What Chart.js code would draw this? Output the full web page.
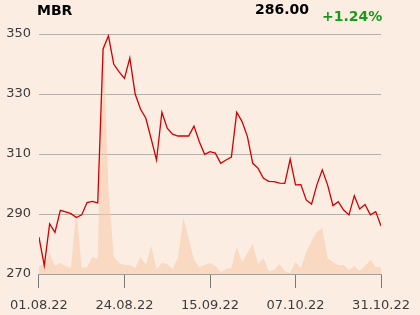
<!DOCTYPE html>
<html>
<head>
<meta charset="utf-8">
<script src="https://cdn.jsdelivr.net/npm/chart.js@4"></script>
<style>
  body { margin: 0; background: #fcede2; }
  #wrap { position: relative; width: 420px; height: 315px; }
  .lbl { position: absolute; font-family: "DejaVu Sans", sans-serif; font-weight: bold; font-size: 14px; line-height: 14px; white-space: nowrap; }
</style>
</head>
<body>
<div id="wrap">
  <canvas id="mbrChart" width="420" height="315"></canvas>
  <div class="lbl" style="left:37px; top:3px; color:#000;">MBR</div>
  <div class="lbl" style="left:255px; top:2px; color:#000;">286.00</div>
  <div class="lbl" style="left:322px; top:9px; color:#1a9a1a;">+1.24%</div>
</div>
<script>
const tickLabels = ['01.08.22', '24.08.22', '15.09.22', '07.10.22', '31.10.22'];

const closes = [
    282.3, 272.8, 286.7, 283.9, 291.2, 290.7, 290.1, 288.8, 289.7, 293.8,
    294.2, 293.7, 345.0, 349.4, 339.9, 337.4, 335.2, 342.0, 330.0, 325.0,
    321.9, 315.0, 308.0, 323.9, 318.6, 316.6, 316.0, 316.0, 316.0, 319.3,
    314.1, 309.9, 310.8, 310.3, 306.9, 308.0, 309.0, 323.9, 320.8, 315.8,
    306.9, 305.2, 301.9, 300.9, 300.8, 300.3, 300.2, 308.3, 299.7, 299.8,
    294.7, 293.3, 299.7, 304.7, 299.7, 292.8, 294.1, 291.3, 289.7, 296.1,
    291.7, 293.2, 289.7, 290.8, 286.0
];

const volumes = [
    8, 10, 21, 8, 11, 8, 6, 66, 6, 7,
    17, 15, 239, 85, 17, 11, 9, 9, 6, 17,
    9, 28, 5, 11, 10, 5, 16, 56, 36, 14,
    7, 9, 11, 8, 2, 5, 6, 27, 12, 21,
    30, 10, 16, 3, 4, 10, 3, 1, 12, 6,
    22, 33, 42, 46, 16, 12, 9, 9, 4, 8,
    3, 8, 14, 7, 7
];

const xs = closes.map((_, i) => i);

const ctx = document.getElementById('mbrChart').getContext('2d');
const chart = new Chart(ctx, {
    type: 'line',
    data: {
        labels: xs,
        datasets: [{
            label: 'MBR',
            data: closes,
            borderColor: '#d00000',
            borderWidth: 1.3,
            pointRadius: 0,
            tension: 0,
            yAxisID: 'y',
            order: 1
        }, {
            label: 'Volume',
            data: volumes,
            borderWidth: 0,
            backgroundColor: 'rgba(246, 200, 168, 0.55)',
            fill: 'origin',
            pointRadius: 0,
            tension: 0,
            yAxisID: 'yv',
            order: 2
        }]
    },
    options: {
        responsive: false,
        animation: false,
        layout: { padding: { top: 34, right: 34, left: 0, bottom: 0 } },
        plugins: {
            legend: { display: false },
            tooltip: { enabled: false }
        },
        scales: {
            x: {
                type: 'linear',
                min: 0,
                max: 64,
                afterFit: scale => { scale.height = 41; },
                ticks: {
                    stepSize: 16,
                    autoSkip: false,
                    maxRotation: 0,
                    padding: 10,
                    color: '#3c3c3c',
                    font: { family: 'DejaVu Sans', size: 13 },
                    callback: value => tickLabels[value / 16]
                },
                grid: {
                    drawOnChartArea: false,
                    drawTicks: true,
                    tickLength: 14,
                    color: '#7a7a7a'
                },
                border: { color: '#a0a0a0', width: 1 }
            },
            y: {
                min: 270,
                max: 350,
                afterFit: scale => { scale.width = 37; },
                ticks: {
                    stepSize: 20,
                    padding: 8,
                    color: '#3c3c3c',
                    font: { family: 'DejaVu Sans', size: 13 }
                },
                grid: {
                    drawTicks: false,
                    color: '#b4b0ac'
                },
                border: { display: false }
            },
            yv: {
                display: false,
                min: 0,
                max: 240
            }
        }
    }
});
</script>
</body>
</html>
